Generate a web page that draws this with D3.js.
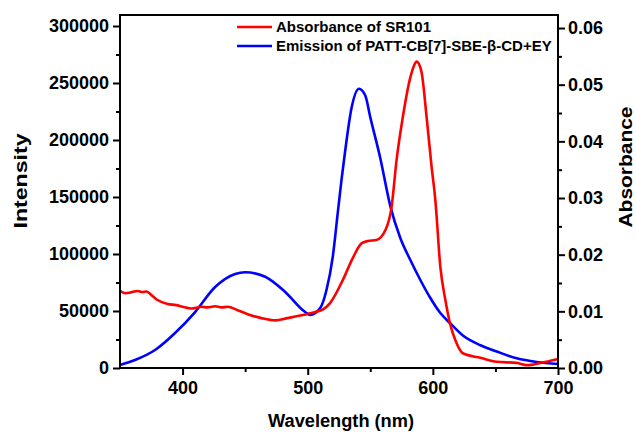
<!DOCTYPE html>
<html>
<head>
<meta charset="utf-8">
<script src="https://cdn.jsdelivr.net/npm/d3@7"></script>
<style>
  body { margin: 0; background: #fff; }
  svg text { font-family: "Liberation Sans", Arial, sans-serif; font-weight: bold; fill: #000; }
</style>
</head>
<body>
<div id="chart"></div>
<script>
// Emission of PATT-CB[7]-SBE-β-CD+EY (left axis, intensity)
const emWave = [350, 362, 378, 394, 410, 426, 442, 450, 466, 482, 498, 502, 510, 515, 520, 524, 527, 530, 535, 541, 546, 550, 558, 566, 574, 582, 590, 598, 606, 614, 624, 638, 651, 667, 683, 700];
const emInt = [2600, 7000, 15800, 30700, 49100, 71000, 82500, 84000, 80000, 66700, 49100, 46500, 52600, 68400, 97400, 136000, 165000, 191000, 228000, 245000, 239000, 220000, 184000, 142000, 114000, 94700, 77200, 61400, 48200, 39000, 28500, 20000, 14500, 8500, 5300, 3500];

// Absorbance of SR101 (right axis)
const abWave = [350, 354, 358, 364, 368, 371, 376, 380, 388, 395, 400, 407, 415, 420, 426, 431, 436, 444, 452, 463, 474, 484, 495, 506, 512, 518, 528, 536, 543, 548, 555, 562, 567, 571, 576, 582, 585, 587, 589, 591, 595, 599, 602, 606, 610, 614, 618, 624, 638, 651, 667, 675, 686, 700];
const abVal = [0.0136, 0.0132, 0.0133, 0.0136, 0.0134, 0.0135, 0.0127, 0.0120, 0.0113, 0.0111, 0.0108, 0.0105, 0.0108, 0.0107, 0.0109, 0.0107, 0.0108, 0.0102, 0.0095, 0.0088, 0.0084, 0.0088, 0.0093, 0.0099, 0.0103, 0.0115, 0.0155, 0.0194, 0.0220, 0.0224, 0.0226, 0.0243, 0.0284, 0.0367, 0.0443, 0.0513, 0.0534, 0.0541, 0.0536, 0.0522, 0.0443, 0.0355, 0.0296, 0.0178, 0.0120, 0.0076, 0.0049, 0.0026, 0.0018, 0.0011, 0.0009, 0.0005, 0.0009, 0.0016];

const xTicks = [400, 500, 600, 700];
const yLeftTicks = [0, 50000, 100000, 150000, 200000, 250000, 300000];
const yRightTicks = [0, 0.01, 0.02, 0.03, 0.04, 0.05, 0.06];

const legendLabels = ['Absorbance of SR101', 'Emission of PATT-CB[7]-SBE-β-CD+EY'];
const colors = ['#ff0000', '#0000ff'];

const W = 636, H = 434;
const M = { left: 120, right: 78, top: 15, bottom: 66 };
const innerW = W - M.left - M.right;
const innerH = H - M.top - M.bottom;

const svg = d3.select('#chart').append('svg')
    .attr('width', W)
    .attr('height', H);

const g = svg.append('g').attr('transform', `translate(${M.left},${M.top})`);

// Scales
const x = d3.scaleLinear().domain([350, 700]).range([0, innerW]);
const yL = d3.scaleLinear().domain([0, 309650]).range([innerH, 0]);
const yR = d3.scaleLinear().domain([0, 0.0623]).range([innerH, 0]);

// Lines
const absLine = d3.line()
    .x((d, i) => x(abWave[i]))
    .y(d => yR(d))
    .curve(d3.curveMonotoneX);

const emLine = d3.line()
    .x((d, i) => x(emWave[i]))
    .y(d => yL(d))
    .curve(d3.curveMonotoneX);

g.append('path')
    .attr('d', emLine(emInt))
    .attr('fill', 'none')
    .attr('stroke', colors[1])
    .attr('stroke-width', 2.6);

g.append('path')
    .attr('d', absLine(abVal))
    .attr('fill', 'none')
    .attr('stroke', colors[0])
    .attr('stroke-width', 2.6);

// Axes
const fontSize = '18px';

function styleAxis(sel) {
    sel.select('.domain').remove();
    sel.selectAll('.tick line').attr('stroke', '#000').attr('stroke-width', 2);
    sel.selectAll('.tick text').style('font-size', fontSize);
}

function minorTicks(scale, values, orient, len) {
    return orient(scale).tickValues(values).tickSize(len).tickFormat('');
}

// x axis
const xAx = g.append('g')
    .attr('transform', `translate(0,${innerH})`)
    .call(d3.axisBottom(x).tickValues(xTicks).tickSize(7).tickPadding(6));
styleAxis(xAx);
const xMinor = g.append('g')
    .attr('transform', `translate(0,${innerH})`)
    .call(minorTicks(x, [450, 550, 650], d3.axisBottom, 4));
styleAxis(xMinor);

// left axis
const yLAx = g.append('g')
    .call(d3.axisLeft(yL).tickValues(yLeftTicks).tickSize(7).tickPadding(4).tickFormat(d3.format('d')));
styleAxis(yLAx);
const yLMinor = g.append('g')
    .call(minorTicks(yL, [25000, 75000, 125000, 175000, 225000, 275000], d3.axisLeft, 4));
styleAxis(yLMinor);

// right axis
const yRAx = g.append('g')
    .attr('transform', `translate(${innerW},0)`)
    .call(d3.axisRight(yR).tickValues(yRightTicks).tickSize(7).tickPadding(3).tickFormat(d3.format('.2f')));
styleAxis(yRAx);
const yRMinor = g.append('g')
    .attr('transform', `translate(${innerW},0)`)
    .call(minorTicks(yR, [0.005, 0.015, 0.025, 0.035, 0.045, 0.055], d3.axisRight, 4));
styleAxis(yRMinor);

// frame
g.append('rect')
    .attr('width', innerW)
    .attr('height', innerH)
    .attr('fill', 'none')
    .attr('stroke', '#000')
    .attr('stroke-width', 2);

// Axis titles
svg.append('text')
    .attr('x', M.left + innerW / 2 + 2)
    .attr('y', 427)
    .attr('text-anchor', 'middle')
    .attr('textLength', 146)
    .attr('lengthAdjust', 'spacingAndGlyphs')
    .style('font-size', '17.5px')
    .text('Wavelength (nm)');

svg.append('text')
    .attr('transform', 'translate(27,181) rotate(-90)')
    .attr('text-anchor', 'middle')
    .attr('textLength', 95)
    .attr('lengthAdjust', 'spacingAndGlyphs')
    .style('font-size', '18.5px')
    .text('Intensity');

svg.append('text')
    .attr('transform', 'translate(632,167) rotate(-90)')
    .attr('text-anchor', 'middle')
    .attr('textLength', 121)
    .attr('lengthAdjust', 'spacingAndGlyphs')
    .style('font-size', '18.5px')
    .text('Absorbance');

// Legend
const legend = svg.append('g').attr('transform', 'translate(237,27)');
legendLabels.forEach((label, i) => {
    const row = legend.append('g').attr('transform', `translate(0,${i * 19})`);
    row.append('line')
        .attr('x1', 0).attr('x2', 35)
        .attr('stroke', colors[i])
        .attr('stroke-width', 2.6);
    row.append('text')
        .attr('x', 39)
        .attr('dy', '0.35em')
        .style('font-size', '15px')
        .text(label);
});
</script>
</body>
</html>
